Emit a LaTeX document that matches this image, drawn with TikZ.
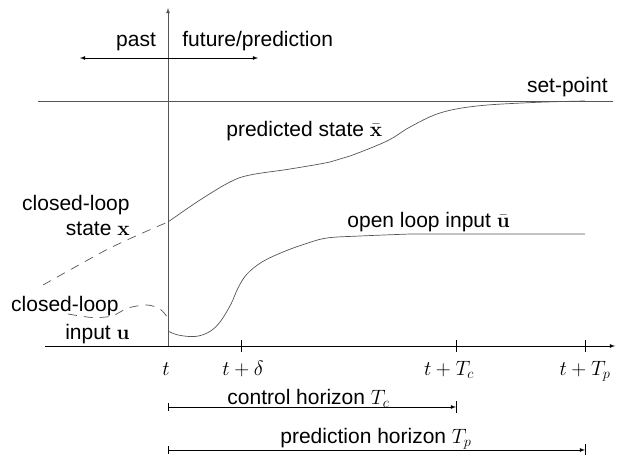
\documentclass[tikz,border=0pt]{standalone}
\usepackage{amsmath}
\usepackage[no-math]{fontspec}
\setmainfont{Liberation Sans}
\usetikzlibrary{arrows}
\usetikzlibrary{math}
\definecolor{mygray}{RGB}{85,85,85}

\begin{document}
\begin{tikzpicture}[x=1pt,y=-1pt,line width=0.8pt,
  every node/.style={font=\fontsize{21}{24}\selectfont,inner sep=0pt},
  curve/.style={line width=0.7pt,color=mygray},
  dashcurve/.style={curve,dash pattern=on 9pt off 7pt}]
\tikzmath{
\tO=168;
\tA=346;
\tD=241;
\tC=456;
\tP=585;
\spy=101;
\tk=6;
}
\useasboundingbox (0,0) rectangle (622,455);

%%%%%%%%%%   axes
\draw[-latex] (45,\tA) -- (615,\tA);
\draw[-latex,color=mygray] (\tO,\tA) -- (\tO,8);
\foreach \xx in {\tD,\tC,\tP} \draw (\xx,\tA-\tk) -- (\xx,\tA+\tk);

\node[anchor=base] (lt) at (166,375) {$t$};
\node[anchor=base] (ltd) at (243,375) {$t+\delta$};
\node[anchor=base] (ltc) at (449,375) {$t+T_c$};
\node[anchor=base] (ltp) at (585,375) {$t+T_p$};

%%%%%%%%%%   past / future
\draw[latex-latex] (80,58) -- (258,58);
\node[anchor=base] (past) at (136,46) {past};
\node[anchor=base west] (future) at (182,46) {future/prediction};

%%%%%%%%%%   set-point
\draw[color=mygray] (38,\spy) -- (613,\spy);
\node[anchor=base east] (setp) at (608,92) {set-point};

%%%%%%%%%%   predicted state
\draw[curve] plot[smooth,tension=0.6] coordinates {(\tO,222) (200,200) (230,182) (250,175) (290,169) (330,162) (350,156) (387,141) (410,127) (440,113) (477,106) (533,102.5) (\tP,\spy)};
\node[anchor=base west] (pstate) at (226,136) {predicted state $\bar{\mathbf{x}}$};

%%%%%%%%%%   open loop input
\draw[curve] plot[smooth,tension=0.6] coordinates {(\tO,331) (178,335) (195,336.5) (209,332) (220,322) (231,304) (238,288) (247,274) (262,262) (283,252) (305,244) (327,238) (360,236) (410,234)} -- (\tP,234);
\node[anchor=base west] (oinput) at (347,227) {open loop input $\bar{\mathbf{u}}$};

%%%%%%%%%%   closed-loop (past)
\draw[dashcurve] plot[smooth] coordinates {(43,285) (77,266) (110,248) (147,231) (\tO,222)};
\draw[dashcurve] plot[smooth] coordinates {(68,314) (92,317.5) (112,316) (128,308) (147,305) (160,309) (\tO,318)};
\node[anchor=base east] (cstate1) at (130,210) {closed-loop};
\node[anchor=base east] (cstate2) at (130,235) {state $\mathbf{x}$};
\node[anchor=base east] (cinput1) at (119,311) {closed-loop};
\node[anchor=base east] (cinput2) at (130,339) {input $\mathbf{u}$};

%%%%%%%%%%   horizons
\draw[|-latex] (\tO,407) -- (\tC,407);
\draw (\tC,407-\tk) -- (\tC,407+\tk);
\node[anchor=base west] (ctrl) at (227,404) {control horizon $T_c$};

\draw[|-latex] (\tO,450) -- (\tP,450);
\draw (\tP,450-\tk) -- (\tP,450+\tk);
\node[anchor=base west] (pred) at (280,443) {prediction horizon $T_p$};

\end{tikzpicture}
\end{document}
